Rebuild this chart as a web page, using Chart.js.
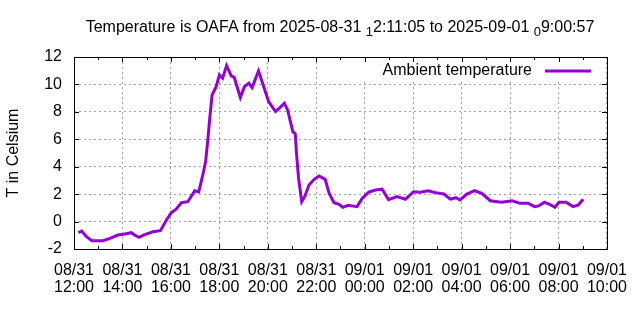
<!DOCTYPE html>
<html>
<head>
<meta charset="utf-8">
<title>Temperature is OAFA</title>
<script src="https://cdn.jsdelivr.net/npm/chart.js@4.4.1/dist/chart.umd.min.js"></script>
<style>
    html, body { margin: 0; padding: 0; background: #fff; }
    #wrap { width: 640px; height: 320px; }
</style>
</head>
<body>
<div id="wrap"><canvas id="tempChart" width="640" height="320"></canvas></div>
<script>
// samples (local clock time, 08/31 12:11 -> 09/01 09:01)
const sampleTimes = [
    '12:11', '12:19', '12:31', '12:44', '13:12', '13:29', '13:49', '14:06', '14:22', '14:30',
    '14:41', '14:55', '15:16', '15:34', '15:49', '16:01', '16:13', '16:26', '16:42', '16:59',
    '17:09', '17:19', '17:26', '17:31', '17:37', '17:42', '17:52', '18:00', '18:08', '18:18',
    '18:29', '18:37', '18:52', '19:02', '19:13', '19:21', '19:37', '19:47', '20:02', '20:19',
    '20:28', '20:41', '20:49', '21:02', '21:08', '21:11', '21:16', '21:24', '21:32', '21:42',
    '21:55', '22:07', '22:22', '22:32', '22:44', '22:55', '23:06', '23:19', '23:41', '23:54',
    '00:10', '00:27', '00:43', '00:59', '01:20', '01:41', '02:01', '02:18', '02:37', '02:55',
    '03:16', '03:32', '03:46', '03:56', '04:13', '04:32', '04:50', '05:11', '05:29', '05:39',
    '06:05', '06:25', '06:45', '07:01', '07:11', '07:25', '07:38', '07:51', '08:01', '08:19',
    '08:36', '08:49', '09:01'
];
const temperatures = [
    -0.80, -0.69, -1.10, -1.39, -1.39, -1.22, -0.98, -0.90, -0.81, -0.98,
    -1.15, -0.95, -0.74, -0.66, 0.12, 0.65, 0.90, 1.38, 1.45, 2.25,
    2.16, 3.40, 4.37, 5.83, 7.78, 9.23, 9.84, 10.69, 10.45, 11.37,
    10.64, 10.50, 9.04, 9.84, 10.09, 9.77, 10.98, 10.09, 8.75, 8.02,
    8.26, 8.63, 8.14, 6.56, 6.40, 5.00, 3.20, 1.45, 1.87, 2.67,
    3.08, 3.33, 3.08, 2.06, 1.38, 1.28, 1.04, 1.19, 1.09, 1.70,
    2.15, 2.30, 2.36, 1.60, 1.82, 1.63, 2.18, 2.14, 2.25, 2.11,
    2.01, 1.63, 1.74, 1.58, 2.01, 2.25, 2.06, 1.52, 1.45, 1.41,
    1.52, 1.33, 1.33, 1.09, 1.14, 1.41, 1.26, 1.04, 1.41, 1.41,
    1.09, 1.21, 1.63
];

const tickDates = ['08/31', '08/31', '08/31', '08/31', '08/31', '08/31',
                   '09/01', '09/01', '09/01', '09/01', '09/01', '09/01'];
const tickTimes = ['12:00', '14:00', '16:00', '18:00', '20:00', '22:00',
                   '00:00', '02:00', '04:00', '06:00', '08:00', '10:00'];
const yTicks = [-2, 0, 2, 4, 6, 8, 10, 12];

const seriesLabel = 'Ambient temperature';
const titleParts = [
    { text: 'Temperature is OAFA from 2025-08-31 ' },
    { text: '1', sub: true },
    { text: '2:11:05 to 2025-09-01 ' },
    { text: '0', sub: true },
    { text: '9:00:57' }
];

const FONT = '"Liberation Sans", Arial, sans-serif';
const LINE_COLOR = '#9400d3';

// hours after 08/31 12:00
function toHours(t) {
    const [h, m] = t.split(':').map(Number);
    let v = h + m / 60 - 12;
    if (v < 0) v += 24;
    return v;
}

const points = sampleTimes.map((t, i) => ({ x: toHours(t), y: temperatures[i] }));

// gnuplot style frame, inward tics, opaque key and enhanced title
const gnuplotLook = {
    id: 'gnuplotLook',
    beforeDatasetsDraw(chart) {
        const ctx = chart.ctx;
        const area = chart.chartArea;
        // opaque key box
        ctx.save();
        ctx.fillStyle = '#fff';
        ctx.fillRect(360, area.top + 1, area.right - 361, 24);
        ctx.restore();
    },
    afterDraw(chart) {
        const ctx = chart.ctx;
        const area = chart.chartArea;
        const xs = chart.scales.x;
        const ys = chart.scales.y;

        ctx.save();
        ctx.strokeStyle = '#000';
        ctx.lineWidth = 1;
        ctx.beginPath();
        for (let h = 0; h <= 22; h++) {
            const px = Math.round(xs.getPixelForValue(h)) + 0.5;
            const len = h % 2 === 0 ? 5 : 3;
            ctx.moveTo(px, area.bottom); ctx.lineTo(px, area.bottom - len);
            ctx.moveTo(px, area.top); ctx.lineTo(px, area.top + len);
        }
        yTicks.forEach(v => {
            const py = Math.round(ys.getPixelForValue(v)) + 0.5;
            ctx.moveTo(area.left, py); ctx.lineTo(area.left + 5, py);
            ctx.moveTo(area.right, py); ctx.lineTo(area.right - 5, py);
        });
        ctx.stroke();
        ctx.strokeRect(Math.round(area.left) + 0.5, Math.round(area.top) + 0.5,
            Math.round(area.right - area.left), Math.round(area.bottom - area.top));

        // key
        const keyY = area.top + 14;
        ctx.font = '16px ' + FONT;
        ctx.fillStyle = '#000';
        ctx.textAlign = 'right';
        ctx.textBaseline = 'middle';
        ctx.fillText(chart.data.datasets[0].label, 532, keyY);
        ctx.strokeStyle = LINE_COLOR;
        ctx.lineWidth = 3;
        ctx.beginPath();
        ctx.moveTo(545, keyY);
        ctx.lineTo(591, keyY);
        ctx.stroke();

        // title with subscripts
        const normal = '16px ' + FONT;
        const small = '13px ' + FONT;
        let total = 0;
        titleParts.forEach(p => {
            ctx.font = p.sub ? small : normal;
            total += ctx.measureText(p.text).width;
        });
        let x = 340 - total / 2;
        ctx.textAlign = 'left';
        ctx.textBaseline = 'alphabetic';
        ctx.fillStyle = '#000';
        titleParts.forEach(p => {
            ctx.font = p.sub ? small : normal;
            ctx.fillText(p.text, x, p.sub ? 36 : 32);
            x += ctx.measureText(p.text).width;
        });
        ctx.restore();
    }
};

new Chart(document.getElementById('tempChart'), {
    type: 'line',
    data: {
        datasets: [{
            label: seriesLabel,
            data: points,
            borderColor: LINE_COLOR,
            backgroundColor: LINE_COLOR,
            borderWidth: 3,
            pointRadius: 0,
            tension: 0,
            fill: false
        }]
    },
    options: {
        responsive: false,
        animation: false,
        layout: { padding: { left: 0, right: 31, top: 57, bottom: 0 } },
        plugins: {
            legend: { display: false },
            title: { display: false },
            tooltip: { enabled: false }
        },
        scales: {
            x: {
                type: 'linear',
                min: 0,
                max: 22,
                afterFit: s => { s.height = 71; },
                afterBuildTicks: s => { s.ticks = tickTimes.map((t, i) => ({ value: i * 2 })); },
                ticks: {
                    autoSkip: false,
                    maxRotation: 0,
                    padding: 13,
                    color: '#000',
                    font: { family: FONT, size: 16, lineHeight: 1.07 },
                    callback: v => [tickDates[v / 2], tickTimes[v / 2]]
                },
                grid: { color: '#a0a0a0', lineWidth: 1, drawTicks: false },
                border: { display: false, dash: [2, 3] }
            },
            y: {
                type: 'linear',
                min: -2,
                max: 12,
                afterFit: s => { s.width = 74; },
                afterBuildTicks: s => { s.ticks = yTicks.map(v => ({ value: v })); },
                ticks: {
                    padding: 12,
                    color: '#000',
                    font: { family: FONT, size: 16 }
                },
                title: {
                    display: true,
                    text: 'T in Celsium',
                    color: '#000',
                    padding: { top: 4, bottom: 0 },
                    font: { family: FONT, size: 16 }
                },
                grid: { color: '#a0a0a0', lineWidth: 1, drawTicks: false },
                border: { display: false, dash: [2, 3] }
            }
        }
    },
    plugins: [gnuplotLook]
});
</script>
</body>
</html>
